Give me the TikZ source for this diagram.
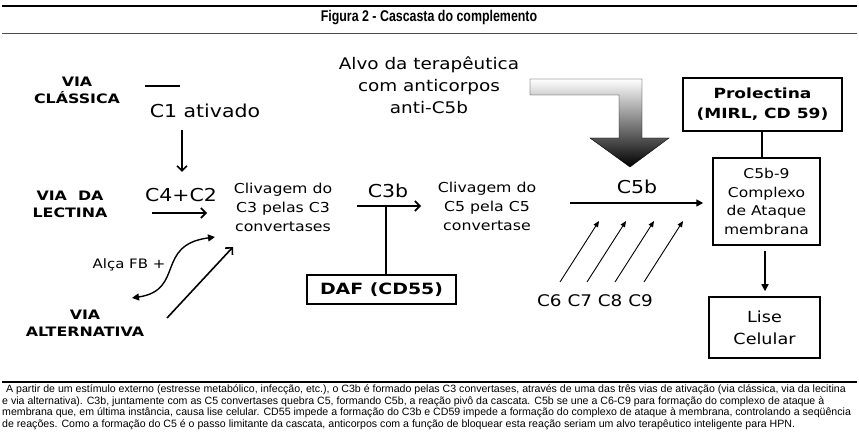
\documentclass[tikz,border=0pt]{standalone}
\usepackage{fontspec}
\usepackage{tikz}
\usetikzlibrary{arrows.meta}

\newfontfamily\verd{DejaVu Sans}[FakeStretch=1.15]
\newfontfamily\verdb{DejaVu Sans}[FakeStretch=1.22]
\newfontfamily\capfont{Liberation Sans}
\newfontfamily\titfont{Liberation Sans}[FakeStretch=0.8]
\newcommand\fs[2]{\fontsize{#1}{#2}\selectfont}

\tikzset{
  via/.style={font=\verdb\bfseries\fs{13}{17}, align=center, inner sep=1pt},
  txt/.style={font=\verd, align=center, inner sep=1pt},
  box/.style={draw, line width=1.5pt, inner sep=0pt, align=center},
  barb/.style={line width=1.6pt, -{Straight Barb[length=5pt,width=10pt,line width=1.6pt]}},
  tri/.style={line width=1.4pt, -{Triangle[length=7pt,width=7pt]}},
  thin arrow/.style={line width=0.9pt, -{Triangle[length=6pt,width=5pt]}}
}

\begin{document}
\begin{tikzpicture}[x=1pt,y=-1pt]
  \useasboundingbox (0,0) rectangle (859,443);

  % title and rules
  \draw[line width=2pt] (2,6) -- (857,6);
  \node[font=\titfont\bfseries\fs{15.5}{17}] (title) at (429,18) {Figura 2 - Cascasta do complemento};
  \draw[line width=0.8pt, black!70] (2,33) -- (857,33);
  \draw[line width=1.5pt] (2,382) -- (857,382);

  % the three pathways
  \node[via] (classica) at (77,90) {VIA\\CLÁSSICA};
  \node[via] (lectina) at (70,204) {VIA~ DA\\LECTINA};
  \node[via] (alternativa) at (85,323) {VIA\\ALTERNATIVA};

  \node[txt, font=\verd\fs{17.8}{20}] (c1) at (205,111) {C1 ativado};
  \draw[line width=1.2pt] (145,86) -- (180,86);
  \node[txt, font=\verd\fs{17.8}{20}] (c4c2) at (181,195) {C4+C2};
  \coordinate (c1out) at (182,130);
  \coordinate (c4c2top) at (182,172);
  \draw[barb] (c1out) -- (c4c2top);

  \node[txt, font=\verd\fs{13.7}{19}] (clivc3) at (283,207) {Clivagem do\\C3 pelas C3\\convertases};
  \coordinate (c4c2in) at (152,213);
  \coordinate (c4c2out) at (207,213);
  \draw[barb] (c4c2in) -- (c4c2out);

  % feedback loop
  \node[txt, font=\verd\fs{13}{15}] (alca) at (129,265) {Alça FB +};
  \coordinate (fbleft) at (132,298);
  \coordinate (fbright) at (215,237);
  \draw[line width=1.4pt, {Triangle[length=7pt,width=7pt]}-{Triangle[length=7pt,width=7pt]}]
    (fbleft) .. controls (185,290) and (155,245) .. (fbright);
  \coordinate (altout) at (167,318);
  \coordinate (altin) at (233,247);
  \draw[barb] (altout) -- (altin);

  % C3b and DAF
  \node[txt, font=\verd\fs{17.8}{20}] (c3b) at (388,191) {C3b};
  \coordinate (c3bin) at (357,206);
  \coordinate (c3bout) at (421,206);
  \coordinate (c3bmid) at (386,206);
  \draw[barb] (c3bin) -- (c3bout);
  \node[box, font=\verdb\bfseries\fs{15.5}{18}, minimum width=149pt, minimum height=29pt] (daf) at (381.5,289.5) {DAF (CD55)};
  \draw[line width=1.6pt] (daf.north -| c3bmid) -- (c3bmid);

  \node[txt, font=\verd\fs{13.7}{19}] (clivc5) at (487,206) {Clivagem do\\C5 pela C5\\convertase};

  % therapeutic target
  \node[txt, font=\verd\fs{16}{22}] (alvo) at (429,85) {Alvo da terapêutica\\com anticorpos\\anti-C5b};
  \draw[thin, top color=white, bottom color=black]
    (530,79) -- (642,79) -- (642,138) -- (669,138) -- (630,167) -- (590,138)
    -- (619,138) -- (619,95) -- (530,95) -- cycle;

  % C5b and terminal components
  \node[txt, font=\verd\fs{17.8}{20}] (c5b) at (637,187) {C5b};
  \coordinate (c5bin) at (570,203);
  \node[txt, font=\verd\fs{16}{18}] (c6c9) at (595,301) {C6 C7 C8 C9};
  \foreach \x in {560,587,615,644}
    \draw[thin arrow] (\x,282) -- (\x+39,221);

  % boxes on the right
  \node[box, font=\verdb\bfseries\fs{14}{20}, minimum width=159pt, minimum height=53pt] (prolectina) at (762.5,104.5) {Prolectina\\(MIRL, CD 59)};
  \node[box, font=\verd\fs{13.5}{18.5}, minimum width=107pt, minimum height=87pt] (mac) at (766.5,201.5) {C5b-9\\Complexo\\de Ataque\\membrana};
  \node[box, font=\verd\fs{15.3}{22}, minimum width=111pt, minimum height=61pt] (lise) at (764.5,327.5) {Lise\\Celular};

  \coordinate (macx) at (762,0);
  \coordinate (lisex) at (765,0);
  \draw[tri] (c5bin) -- ([xshift=-9pt]c5bin -| mac.west);
  \draw[line width=1.6pt] (prolectina.south -| macx) -- (mac.north -| macx);
  \draw[tri] ([yshift=-5pt]mac.south -| lisex) -- ([yshift=5pt]lise.north -| lisex);

  % legend
  \node[anchor=north west, align=left, inner sep=0pt, font=\capfont\fs{10.6}{11.5}] (legenda) at (2,384.5) {%
  \hspace{4pt}A partir de um estímulo externo (estresse metabólico, infecção, etc.), o C3b é formado pelas C3 convertases, através de uma das três vias de ativação (via clássica, via da lecitina\\
  e via alternativa). C3b, juntamente com as C5 convertases quebra C5, formando C5b, a reação pivô da cascata. C5b se une a C6-C9 para formação do complexo de ataque à\\
  membrana que, em última instância, causa lise celular. CD55 impede a formação do C3b e CD59 impede a formação do complexo de ataque à membrana, controlando a seqüência\\
  de reações. Como a formação do C5 é o passo limitante da cascata, anticorpos com a função de bloquear esta reação seriam um alvo terapêutico inteligente para HPN.};
\end{tikzpicture}
\end{document}
